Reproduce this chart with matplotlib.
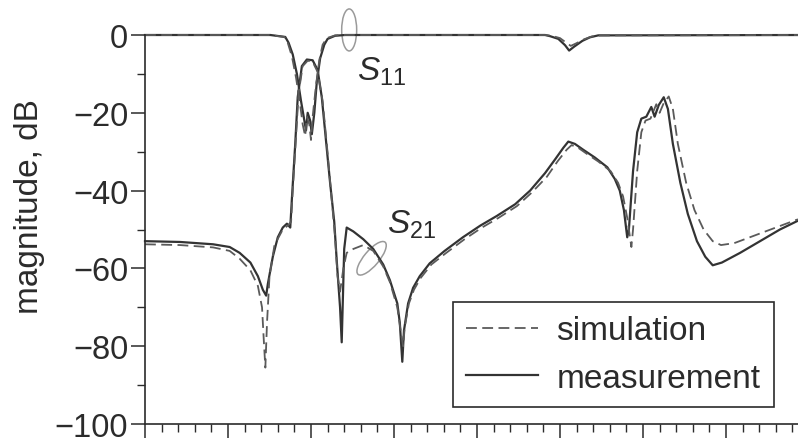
import matplotlib.pyplot as plt
import matplotlib.ticker as ticker
from matplotlib.patches import Ellipse
from matplotlib.transforms import ScaledTranslation

plt.rcParams["font.family"] = ["Liberation Sans", "DejaVu Sans"]
plt.rcParams["mathtext.fontset"] = "custom"
plt.rcParams["mathtext.rm"] = "Liberation Sans"
plt.rcParams["mathtext.it"] = "Liberation Sans:italic"

INK = "#2b2b2b"
MEAS_COLOR = "#333333"
SIM_COLOR = "#5a5a5a"
RING_COLOR = "#9a9a9a"

# frequency axis in GHz, magnitudes in dB
s21_meas_f = [0.00, 0.42, 0.82, 1.02, 1.14, 1.27, 1.36, 1.42, 1.46, 1.48, 1.54, 1.60, 1.66, 1.71,
              1.75, 1.77, 1.81, 1.84, 1.89, 1.95, 2.02, 2.08, 2.13, 2.18, 2.23, 2.28, 2.31, 2.35,
              2.37, 2.40, 2.43, 2.51, 2.63, 2.75, 2.87, 2.95, 3.04, 3.07, 3.10, 3.12, 3.17, 3.23,
              3.31, 3.43, 3.61, 3.83, 4.04, 4.24, 4.46, 4.64, 4.82, 4.94, 5.04, 5.10, 5.18, 5.28,
              5.42, 5.57, 5.66, 5.72, 5.77, 5.81, 5.83, 5.88, 5.93, 5.98, 6.04, 6.10, 6.14, 6.19,
              6.25, 6.30, 6.36, 6.45, 6.54, 6.65, 6.75, 6.84, 6.95, 7.17, 7.41, 7.65, 7.89, 8.00]
s21_meas_db = [-53.0, -53.2, -53.8, -54.5, -56.0, -58.5, -62.0, -65.5, -67.0, -64.0, -57.0, -52.0,
               -49.5, -48.5, -49.5, -42.0, -28.0, -16.0, -8.0, -6.3, -6.5, -9.0, -16.0, -27.0,
               -38.0, -48.0, -58.0, -70.0, -79.0, -55.0, -49.5, -50.5, -52.5, -55.0, -59.0, -63.0,
               -69.0, -74.0, -84.0, -76.0, -69.0, -65.0, -62.0, -58.7, -55.5, -52.0, -49.0, -46.5,
               -43.5, -40.0, -35.5, -32.0, -29.0, -27.4, -28.0, -29.5, -31.5, -34.0, -37.0, -40.0,
               -45.0, -52.0, -50.0, -35.0, -25.0, -21.5, -21.0, -18.5, -21.0, -18.0, -16.0, -19.0,
               -28.0, -38.0, -46.0, -53.0, -57.0, -59.2, -58.5, -56.0, -53.0, -50.0, -47.5, -46.5]

s21_sim_f = [0.00, 0.42, 0.82, 1.02, 1.14, 1.27, 1.36, 1.41, 1.43, 1.45, 1.47, 1.50, 1.56, 1.66,
             1.72, 1.76, 1.78, 1.82, 1.85, 1.90, 1.96, 2.02, 2.08, 2.14, 2.19, 2.24, 2.29, 2.32,
             2.35, 2.39, 2.43, 2.51, 2.63, 2.75, 2.87, 2.95, 3.04, 3.08, 3.11, 3.13, 3.18, 3.24,
             3.32, 3.45, 3.63, 3.85, 4.06, 4.26, 4.48, 4.66, 4.84, 4.97, 5.08, 5.14, 5.22, 5.32,
             5.46, 5.61, 5.70, 5.76, 5.81, 5.86, 5.88, 5.93, 5.98, 6.03, 6.09, 6.16, 6.20, 6.25,
             6.31, 6.36, 6.42, 6.52, 6.62, 6.73, 6.84, 6.94, 7.10, 7.35, 7.60, 7.85, 8.00]
s21_sim_db = [-53.8, -54.0, -54.6, -55.5, -57.5, -60.5, -64.5, -70.0, -78.0, -85.5, -74.0, -62.0,
              -54.0, -50.0, -49.0, -48.0, -40.0, -26.0, -15.0, -8.0, -6.6, -6.9, -9.5, -17.0,
              -28.0, -40.0, -52.0, -62.0, -66.0, -60.0, -56.0, -55.0, -54.0, -55.5, -59.5, -63.5,
              -70.0, -76.0, -80.0, -75.0, -69.0, -65.5, -62.5, -59.0, -56.0, -52.5, -49.5, -47.0,
              -44.0, -40.5, -36.5, -32.5, -29.5, -28.3, -29.0, -30.5, -32.5, -35.0, -38.0, -41.5,
              -47.0, -54.5, -50.0, -35.0, -25.0, -22.0, -21.5, -17.8, -20.0, -17.5, -15.8, -19.0,
              -28.0, -38.0, -45.0, -50.0, -53.0, -54.0, -53.5, -51.5, -49.5, -47.5, -46.8]

s11_meas_f = [0.00, 1.51, 1.69, 1.73, 1.78, 1.83, 1.88, 1.92, 1.94, 1.96, 1.99, 2.01, 2.04, 2.07,
              2.11, 2.16, 2.20, 2.29, 2.41, 4.82, 4.88, 4.98, 5.06, 5.11, 5.17, 5.27, 5.36, 5.46, 8.00]
s11_meas_db = [0.0, 0.0, -0.5, -2.0, -5.0, -10.0, -17.0, -22.0, -24.5, -20.0, -22.0, -25.5, -20.0,
               -12.0, -6.0, -2.5, -1.0, -0.2, 0.0, 0.0, -0.3, -1.0, -2.6, -4.0, -3.0, -1.5, -0.6,
               -0.1, 0.0]

s11_sim_f = [0.00, 1.50, 1.68, 1.72, 1.77, 1.82, 1.87, 1.90, 1.93, 1.95, 1.98, 2.00, 2.02, 2.06,
             2.10, 2.14, 2.19, 2.29, 2.41, 4.82, 4.90, 5.00, 5.07, 5.13, 5.19, 5.29, 5.38, 5.48, 8.00]
s11_sim_db = [0.0, 0.0, -0.5, -2.0, -5.5, -11.0, -18.0, -23.0, -26.0, -21.0, -23.0, -27.0, -21.0,
              -13.0, -6.5, -2.5, -0.8, -0.1, 0.0, 0.0, -0.2, -0.8, -1.9, -2.8, -2.2, -1.1, -0.4,
              -0.1, 0.0]

SIM_DASH = (0, (6, 3))


def ring(ax, fig, x, y, w, h, angle=0.0):
    # ellipse sized in inches, anchored at a data point
    trans = fig.dpi_scale_trans + ScaledTranslation(x, y, ax.transData)
    e = Ellipse((0, 0), w, h, angle=angle, transform=trans, fill=False,
                ec=RING_COLOR, lw=1.1, clip_on=False)
    ax.add_patch(e)


fig = plt.figure(figsize=(7.98, 4.39), dpi=100)
ax = fig.add_axes([145 / 798, 14 / 439, 664 / 798, 389 / 439])

ax.plot(s21_meas_f, s21_meas_db, color=MEAS_COLOR, lw=1.6, clip_on=False)
ax.plot(s11_meas_f, s11_meas_db, color=MEAS_COLOR, lw=1.6, clip_on=False, label="measurement")
ax.plot(s21_sim_f, s21_sim_db, color=SIM_COLOR, lw=1.3, ls=SIM_DASH, clip_on=False)
ax.plot(s11_sim_f, s11_sim_db, color=SIM_COLOR, lw=1.3, ls=SIM_DASH, clip_on=False,
        label="simulation")

ring(ax, fig, 2.46, 1.3, 0.15, 0.42)
ring(ax, fig, 2.73, -57.4, 0.42, 0.15, angle=50)

ax.text(2.55, -11.4, r"$S_{11}$", fontsize=24, color=INK, ha="left", va="baseline")
ax.text(2.92, -50.9, r"$S_{21}$", fontsize=24, color=INK, ha="left", va="baseline")

ax.set_xlim(0, 8)
ax.set_ylim(-100, 0)
ax.set_yticks(range(-100, 1, 20))
ax.yaxis.set_minor_locator(ticker.MultipleLocator(10))
ax.xaxis.set_major_locator(ticker.MultipleLocator(1))
ax.xaxis.set_minor_locator(ticker.MultipleLocator(0.2))
ax.tick_params(which="major", direction="out", length=10, width=1.1, color=INK,
               labelsize=23.5, labelcolor=INK, pad=2)
ax.tick_params(which="minor", direction="out", length=5.5, width=1.0, color=INK)
ax.tick_params(axis="x", labelbottom=False)

for side in ("top", "right"):
    ax.spines[side].set_visible(False)
for side in ("left", "bottom"):
    ax.spines[side].set_linewidth(1.2)
    ax.spines[side].set_color(INK)

fig.text(30 / 798, 1 - 207 / 439, "magnitude, dB", rotation=90, ha="center", va="center",
         fontsize=24, color=INK)

handles, labels = ax.get_legend_handles_labels()
leg = ax.legend(handles[::-1], labels[::-1], loc="upper left",
                bbox_to_anchor=(453 / 798, 1 - 303 / 439), bbox_transform=fig.transFigure,
                borderaxespad=0, fontsize=24, handlelength=2.15, handletextpad=0.55,
                borderpad=0.4, labelspacing=0.5, fancybox=False, framealpha=1,
                edgecolor=INK, labelcolor=INK)
leg.get_frame().set_linewidth(1.2)

fig.savefig("out.png", dpi=100)
